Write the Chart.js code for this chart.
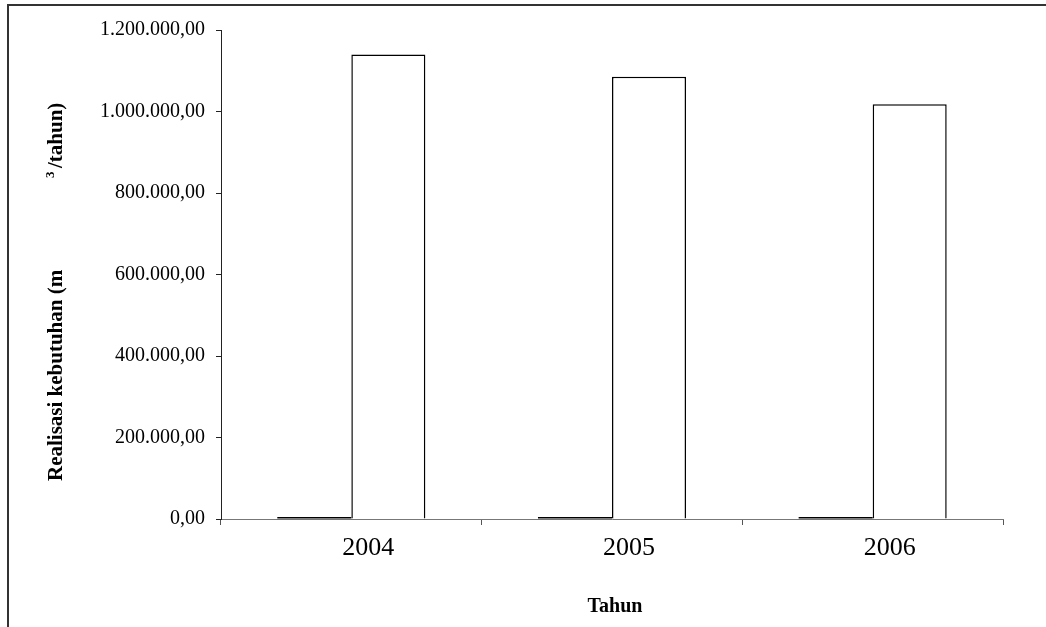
<!DOCTYPE html>
<html>
<head>
<meta charset="utf-8">
<script src="https://cdn.jsdelivr.net/npm/chart.js@4"></script>
<style>
  html, body { margin: 0; padding: 0; background: #fff; }
  #wrap { position: relative; width: 1046px; height: 627px; overflow: hidden; }
  #frame { position: absolute; left: 7px; top: 4px; width: 1050px; height: 640px;
           border-top: 2px solid #333; border-left: 2px solid #333; pointer-events: none; }
  canvas { position: absolute; left: 0; top: 0; }
</style>
</head>
<body>
<div id="wrap">
  <canvas id="myChart" width="1046" height="627"></canvas>
  <div id="frame"></div>
</div>
<script>
// data
const years = ['2004', '2005', '2006'];
const smallSeries = [5000, 5000, 5000];
const realisasi = [1140000, 1085000, 1018000];
const yMin = 0;
const yMax = 1200000;
const yStep = 200000;

const xTitle = 'Tahun';
const yTitleMain = 'Realisasi kebutuhan (m';
const yTitleSup = '3';
const yTitleEnd = '/tahun)';

const serif = "'Liberation Serif', 'Times New Roman', serif";

// axis titles drawn by hand, the y one needs a raised "3"
const titlesPlugin = {
    id: 'titles',
    afterDraw(chart) {
        const ctx = chart.ctx;
        ctx.save();
        ctx.fillStyle = '#000';
        ctx.font = 'bold 20px ' + serif;
        ctx.textAlign = 'center';
        ctx.textBaseline = 'alphabetic';
        ctx.fillText(xTitle, 615, 612);

        ctx.translate(62, 481);
        ctx.rotate(-Math.PI / 2);
        ctx.textAlign = 'left';
        ctx.font = 'bold 21px ' + serif;
        ctx.fillText(yTitleMain, 0, 0);
        ctx.font = 'bold 13px ' + serif;
        ctx.fillText(yTitleSup, 303, -8);
        ctx.font = 'bold 21px ' + serif;
        ctx.fillText(yTitleEnd, 313, 0);
        ctx.restore();
    }
};

document.addEventListener('DOMContentLoaded', () => {
    const ctx = document.getElementById('myChart').getContext('2d');
    new Chart(ctx, {
        type: 'bar',
        data: {
            labels: years,
            datasets: [
                {
                    label: 'kecil',
                    data: smallSeries,
                    backgroundColor: '#000',
                    borderColor: '#000',
                    borderWidth: 0,
                    categoryPercentage: 0.568,
                    barPercentage: 1.0
                },
                {
                    label: 'Realisasi',
                    data: realisasi,
                    backgroundColor: '#fff',
                    borderColor: '#000',
                    borderWidth: 1.5,
                    categoryPercentage: 0.568,
                    barPercentage: 1.0
                }
            ]
        },
        options: {
            responsive: false,
            animation: false,
            layout: { padding: { left: 0, top: 30, right: 43, bottom: 0 } },
            plugins: {
                legend: { display: false },
                tooltip: { enabled: false }
            },
            scales: {
                x: {
                    grid: {
                        offset: true,
                        drawOnChartArea: false,
                        drawTicks: true,
                        tickLength: 6,
                        color: '#555'
                    },
                    border: { color: '#777', width: 1 },
                    ticks: {
                        color: '#000',
                        font: { family: serif, size: 26 },
                        padding: 8,
                        labelOffset: 17,
                        maxRotation: 0
                    },
                    afterFit(scale) { scale.height = 108; }
                },
                y: {
                    min: yMin,
                    max: yMax,
                    grid: {
                        drawOnChartArea: false,
                        drawTicks: true,
                        tickLength: 5,
                        color: '#222'
                    },
                    border: { color: '#222', width: 1 },
                    ticks: {
                        stepSize: yStep,
                        color: '#000',
                        font: { family: serif, size: 20 },
                        padding: 11,
                        callback: (v) => v.toLocaleString('id-ID', { minimumFractionDigits: 2, maximumFractionDigits: 2 })
                    },
                    afterFit(scale) { scale.width = 221; }
                }
            }
        },
        plugins: [titlesPlugin]
    });
});
</script>
</body>
</html>
